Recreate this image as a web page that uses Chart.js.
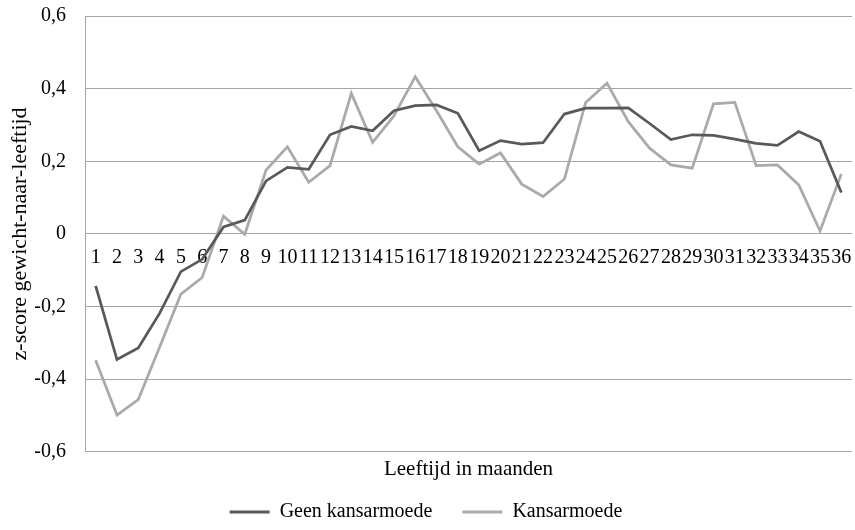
<!DOCTYPE html>
<html>
<head>
<meta charset="utf-8">
<script src="https://cdn.jsdelivr.net/npm/chart.js@4/dist/chart.umd.min.js"></script>
<style>
  html, body { margin: 0; padding: 0; background: #fff; }
  #wrap { width: 855px; height: 530px; }
</style>
</head>
<body>
<div id="wrap"><canvas id="chart" width="855" height="530"></canvas></div>
<script>
// leeftijd in maanden
const months = ['1','2','3','4','5','6','7','8','9','10','11','12','13','14','15','16','17','18',
  '19','20','21','22','23','24','25','26','27','28','29','30','31','32','33','34','35','36'];

// z-score gewicht-naar-leeftijd
const geenKansarmoede = [-0.143, -0.346, -0.314, -0.219, -0.104, -0.070, 0.019, 0.038, 0.146, 0.183,
  0.178, 0.273, 0.296, 0.284, 0.339, 0.353, 0.355, 0.332, 0.229, 0.257, 0.247, 0.251, 0.330, 0.346,
  0.346, 0.347, 0.304, 0.260, 0.273, 0.271, 0.261, 0.249, 0.244, 0.282, 0.255, 0.114];

const kansarmoede = [-0.348, -0.499, -0.456, -0.312, -0.166, -0.120, 0.049, -0.001, 0.176, 0.240,
  0.142, 0.188, 0.387, 0.252, 0.325, 0.433, 0.339, 0.240, 0.192, 0.223, 0.137, 0.103, 0.151, 0.362,
  0.415, 0.309, 0.236, 0.190, 0.181, 0.358, 0.362, 0.188, 0.190, 0.135, 0.008, 0.165];

const yTicks = [-0.6, -0.4, -0.2, 0, 0.2, 0.4, 0.6];

const serif = '"Liberation Serif", "Times New Roman", serif';
const gridGrey = '#a6a6a6';

const fmt = v => (Math.abs(v) < 1e-9 ? '0' : v.toFixed(1).replace('.', ','));

new Chart(document.getElementById('chart').getContext('2d'), {
  type: 'line',
  data: {
    labels: months,
    datasets: [{
      label: 'Geen kansarmoede',
      data: geenKansarmoede,
      borderColor: '#595959',
      backgroundColor: '#595959',
      borderWidth: 2.75,
      pointRadius: 0,
      tension: 0
    }, {
      label: 'Kansarmoede',
      data: kansarmoede,
      borderColor: '#aaaaaa',
      backgroundColor: '#aaaaaa',
      borderWidth: 2.75,
      pointRadius: 0,
      tension: 0
    }]
  },
  options: {
    responsive: false,
    animation: false,
    layout: { padding: { top: 16, right: 3, left: 0, bottom: -2 } },
    scales: {
      x: {
        type: 'category',
        offset: true,
        position: { y: 0 },
        grid: { display: false, drawTicks: false },
        border: { display: false },
        ticks: {
          autoSkip: false,
          maxRotation: 0,
          minRotation: 0,
          padding: 12,
          color: '#000',
          font: { family: serif, size: 20 }
        },
        // as op y=0 mag geen extra ruimte rond het plotgebied vragen
        afterFit: s => { s.paddingLeft = s.paddingRight = s.paddingTop = s.paddingBottom = 0; }
      },
      y: {
        min: -0.6,
        max: 0.6,
        afterBuildTicks: axis => { axis.ticks = yTicks.map(v => ({ value: v })); },
        afterFit: s => { s.width = 85; s.paddingTop = s.paddingBottom = 0; },
        grid: { color: gridGrey, lineWidth: 1, drawTicks: false },
        border: { display: true, color: gridGrey, width: 1 },
        ticks: {
          padding: 19,
          color: '#000',
          font: { family: serif, size: 20 },
          callback: v => fmt(v)
        },
        title: {
          display: true,
          text: 'z-score gewicht-naar-leeftijd',
          color: '#000',
          font: { family: serif, size: 22 },
          padding: { top: 7, bottom: 4 }
        }
      }
    },
    plugins: {
      title: {
        display: true,
        position: 'bottom',
        fullSize: false,
        weight: 500,
        text: 'Leeftijd in maanden',
        color: '#000',
        font: { family: serif, size: 21, weight: 'normal' },
        padding: { top: 5, bottom: -10 }
      },
      legend: {
        position: 'bottom',
        weight: 1000,
        labels: {
          color: '#000',
          font: { family: serif, size: 20 },
          boxWidth: 40,
          boxHeight: 3,
          padding: 30,
          generateLabels: chart => Chart.defaults.plugins.legend.labels.generateLabels(chart)
            .map(l => Object.assign(l, { lineWidth: 0, fillStyle: l.strokeStyle }))
        }
      },
      tooltip: { enabled: false }
    }
  }
});
</script>
</body>
</html>
